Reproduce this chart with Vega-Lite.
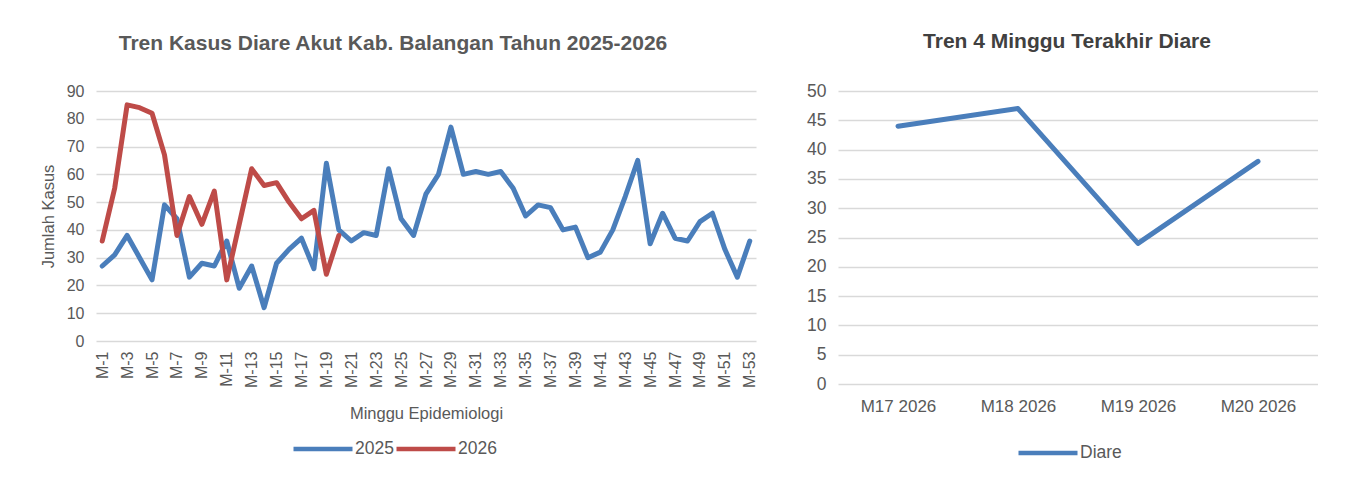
{
  "$schema": "https://vega.github.io/schema/vega-lite/v6.json",
  "background": "white",
  "padding": {"left": 40, "top": 31, "right": 0, "bottom": 0},
  "config": {
    "font": "Liberation Sans",
    "view": {"stroke": null},
    "axis": {"labelColor": "#595959", "titleColor": "#595959", "labelFont": "Liberation Sans", "titleFont": "Liberation Sans", "titleFontWeight": "normal", "gridColor": "#d9d9d9", "gridWidth": 1.5, "domain": false, "ticks": false},
    "legend": {"labelColor": "#595959", "labelFontSize": 17.5, "labelFont": "Liberation Sans", "symbolType": "stroke", "symbolStrokeWidth": 4.5, "symbolSize": 3481, "direction": "horizontal", "orient": "none", "title": null, "labelOffset": 0, "columnPadding": 0},
    "title": {"font": "Liberation Sans", "fontSize": 21, "fontWeight": "bold", "anchor": "middle"},
    "concat": {"spacing": 48}
  },
  "datasets": {
    "weekly": [
      {"week": "M-1", "year": "2025", "cases": 27},
      {"week": "M-2", "year": "2025", "cases": 31},
      {"week": "M-3", "year": "2025", "cases": 38},
      {"week": "M-4", "year": "2025", "cases": 30},
      {"week": "M-5", "year": "2025", "cases": 22},
      {"week": "M-6", "year": "2025", "cases": 49},
      {"week": "M-7", "year": "2025", "cases": 44},
      {"week": "M-8", "year": "2025", "cases": 23},
      {"week": "M-9", "year": "2025", "cases": 28},
      {"week": "M-10", "year": "2025", "cases": 27},
      {"week": "M-11", "year": "2025", "cases": 36},
      {"week": "M-12", "year": "2025", "cases": 19},
      {"week": "M-13", "year": "2025", "cases": 27},
      {"week": "M-14", "year": "2025", "cases": 12},
      {"week": "M-15", "year": "2025", "cases": 28},
      {"week": "M-16", "year": "2025", "cases": 33},
      {"week": "M-17", "year": "2025", "cases": 37},
      {"week": "M-18", "year": "2025", "cases": 26},
      {"week": "M-19", "year": "2025", "cases": 64},
      {"week": "M-20", "year": "2025", "cases": 40},
      {"week": "M-21", "year": "2025", "cases": 36},
      {"week": "M-22", "year": "2025", "cases": 39},
      {"week": "M-23", "year": "2025", "cases": 38},
      {"week": "M-24", "year": "2025", "cases": 62},
      {"week": "M-25", "year": "2025", "cases": 44},
      {"week": "M-26", "year": "2025", "cases": 38},
      {"week": "M-27", "year": "2025", "cases": 53},
      {"week": "M-28", "year": "2025", "cases": 60},
      {"week": "M-29", "year": "2025", "cases": 77},
      {"week": "M-30", "year": "2025", "cases": 60},
      {"week": "M-31", "year": "2025", "cases": 61},
      {"week": "M-32", "year": "2025", "cases": 60},
      {"week": "M-33", "year": "2025", "cases": 61},
      {"week": "M-34", "year": "2025", "cases": 55},
      {"week": "M-35", "year": "2025", "cases": 45},
      {"week": "M-36", "year": "2025", "cases": 49},
      {"week": "M-37", "year": "2025", "cases": 48},
      {"week": "M-38", "year": "2025", "cases": 40},
      {"week": "M-39", "year": "2025", "cases": 41},
      {"week": "M-40", "year": "2025", "cases": 30},
      {"week": "M-41", "year": "2025", "cases": 32},
      {"week": "M-42", "year": "2025", "cases": 40},
      {"week": "M-43", "year": "2025", "cases": 52},
      {"week": "M-44", "year": "2025", "cases": 65},
      {"week": "M-45", "year": "2025", "cases": 35},
      {"week": "M-46", "year": "2025", "cases": 46},
      {"week": "M-47", "year": "2025", "cases": 37},
      {"week": "M-48", "year": "2025", "cases": 36},
      {"week": "M-49", "year": "2025", "cases": 43},
      {"week": "M-50", "year": "2025", "cases": 46},
      {"week": "M-51", "year": "2025", "cases": 33},
      {"week": "M-52", "year": "2025", "cases": 23},
      {"week": "M-53", "year": "2025", "cases": 36},
      {"week": "M-1", "year": "2026", "cases": 36},
      {"week": "M-2", "year": "2026", "cases": 55},
      {"week": "M-3", "year": "2026", "cases": 85},
      {"week": "M-4", "year": "2026", "cases": 84},
      {"week": "M-5", "year": "2026", "cases": 82},
      {"week": "M-6", "year": "2026", "cases": 67},
      {"week": "M-7", "year": "2026", "cases": 38},
      {"week": "M-8", "year": "2026", "cases": 52},
      {"week": "M-9", "year": "2026", "cases": 42},
      {"week": "M-10", "year": "2026", "cases": 54},
      {"week": "M-11", "year": "2026", "cases": 22},
      {"week": "M-12", "year": "2026", "cases": 42},
      {"week": "M-13", "year": "2026", "cases": 62},
      {"week": "M-14", "year": "2026", "cases": 56},
      {"week": "M-15", "year": "2026", "cases": 57},
      {"week": "M-16", "year": "2026", "cases": 50},
      {"week": "M-17", "year": "2026", "cases": 44},
      {"week": "M-18", "year": "2026", "cases": 47},
      {"week": "M-19", "year": "2026", "cases": 24},
      {"week": "M-20", "year": "2026", "cases": 38}
    ],
    "recent": [
      {"week": "M17 2026", "series": "Diare", "cases": 44},
      {"week": "M18 2026", "series": "Diare", "cases": 47},
      {"week": "M19 2026", "series": "Diare", "cases": 24},
      {"week": "M20 2026", "series": "Diare", "cases": 38}
    ]
  },
  "hconcat": [
    {
      "data": {"name": "weekly"},
      "width": 660,
      "height": 250,
      "title": {"text": "Tren Kasus Diare Akut Kab. Balangan Tahun 2025-2026", "color": "#595959", "dx": -33, "offset": 29},
      "mark": {"type": "line", "strokeWidth": 5, "strokeJoin": "round", "strokeCap": "round"},
      "encoding": {
        "x": {
          "field": "week", "type": "ordinal", "sort": null,
          "scale": {"type": "point", "padding": 0.5},
          "axis": {
            "title": "Minggu Epidemiologi", "titleFontSize": 16.5, "titlePadding": 18,
            "labelFontSize": 16, "labelAngle": -90, "labelPadding": 10, "grid": false,
            "values": ["M-1","M-3","M-5","M-7","M-9","M-11","M-13","M-15","M-17","M-19","M-21","M-23","M-25","M-27","M-29","M-31","M-33","M-35","M-37","M-39","M-41","M-43","M-45","M-47","M-49","M-51","M-53"]
          }
        },
        "y": {
          "field": "cases", "type": "quantitative",
          "scale": {"domain": [0, 90]},
          "axis": {"title": "Jumlah Kasus", "titleFontSize": 16.5, "titlePadding": 10, "labelFontSize": 16, "labelPadding": 12, "values": [0,10,20,30,40,50,60,70,80,90]}
        },
        "color": {
          "field": "year", "type": "nominal",
          "scale": {"domain": ["2025", "2026"], "range": ["#4a7ebb", "#be4b48"]},
          "legend": {"legendX": 195, "legendY": 326, "columnPadding": -8, "labelOffset": 0}
        }
      }
    },
    {
      "data": {"name": "recent"},
      "width": 480,
      "height": 293,
      "title": {"text": "Tren 4 Minggu Terakhir Diare", "color": "#404040", "dx": -11, "offset": 30},
      "mark": {"type": "line", "strokeWidth": 5, "strokeJoin": "round", "strokeCap": "round"},
      "encoding": {
        "x": {
          "field": "week", "type": "ordinal", "sort": null,
          "scale": {"type": "point", "padding": 0.5},
          "axis": {"title": null, "labelFontSize": 17, "labelAngle": 0, "labelPadding": 14, "grid": false}
        },
        "y": {
          "field": "cases", "type": "quantitative",
          "scale": {"domain": [0, 50]},
          "axis": {"title": null, "labelFontSize": 17.5, "labelPadding": 12, "values": [0,5,10,15,20,25,30,35,40,45,50]}
        },
        "color": {
          "field": "series", "type": "nominal",
          "scale": {"range": ["#4a7ebb"]},
          "legend": {"legendX": 178, "legendY": 330, "labelOffset": 0}
        }
      }
    }
  ],
  "resolve": {"scale": {"color": "independent"}, "legend": {"color": "independent"}}
}
